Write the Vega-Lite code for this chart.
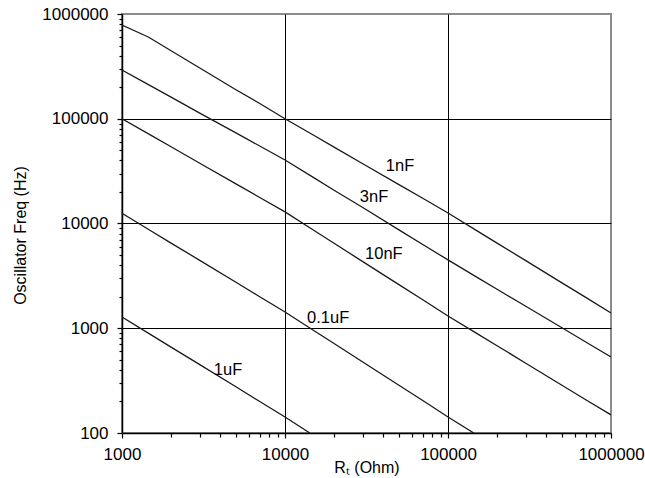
{
  "$schema": "https://vega.github.io/schema/vega-lite/v6.json",
  "width": 489,
  "height": 419,
  "autosize": "none",
  "padding": {"left": 122, "top": 14, "right": 34, "bottom": 45},
  "background": "white",
  "config": {
    "view": {"stroke": "#8c8c8c", "strokeWidth": 2},
    "font": "Liberation Sans"
  },
  "datasets": {
    "curves": [
      {"C": "1nF", "R": 1000, "F": 785000}, {"C": "1nF", "R": 1450, "F": 603000}, {"C": "1nF", "R": 2000, "F": 446000}, {"C": "1nF", "R": 3000, "F": 305000}, {"C": "1nF", "R": 5000, "F": 189000}, {"C": "1nF", "R": 7000, "F": 140000}, {"C": "1nF", "R": 10000, "F": 100000}, {"C": "1nF", "R": 15000, "F": 69500}, {"C": "1nF", "R": 20000, "F": 53600}, {"C": "1nF", "R": 30000, "F": 37200}, {"C": "1nF", "R": 50000, "F": 23500}, {"C": "1nF", "R": 70000, "F": 17400}, {"C": "1nF", "R": 100000, "F": 12600}, {"C": "1nF", "R": 150000, "F": 8550}, {"C": "1nF", "R": 200000, "F": 6500}, {"C": "1nF", "R": 300000, "F": 4420}, {"C": "1nF", "R": 500000, "F": 2710}, {"C": "1nF", "R": 700000, "F": 1970}, {"C": "1nF", "R": 1000000, "F": 1400},
      {"C": "3nF", "R": 1000, "F": 292000}, {"C": "3nF", "R": 1500, "F": 206000}, {"C": "3nF", "R": 2000, "F": 161000}, {"C": "3nF", "R": 3000, "F": 113000}, {"C": "3nF", "R": 5000, "F": 73200}, {"C": "3nF", "R": 7000, "F": 54900}, {"C": "3nF", "R": 10000, "F": 40400}, {"C": "3nF", "R": 15000, "F": 27400}, {"C": "3nF", "R": 20000, "F": 20800}, {"C": "3nF", "R": 30000, "F": 14200}, {"C": "3nF", "R": 50000, "F": 8690}, {"C": "3nF", "R": 70000, "F": 6310}, {"C": "3nF", "R": 100000, "F": 4490}, {"C": "3nF", "R": 150000, "F": 3080}, {"C": "3nF", "R": 200000, "F": 2360}, {"C": "3nF", "R": 300000, "F": 1620}, {"C": "3nF", "R": 500000, "F": 1010}, {"C": "3nF", "R": 700000, "F": 740}, {"C": "3nF", "R": 1000000, "F": 532},
      {"C": "10nF", "R": 1000, "F": 100000}, {"C": "10nF", "R": 1500, "F": 69700}, {"C": "10nF", "R": 2000, "F": 54000}, {"C": "10nF", "R": 3000, "F": 37600}, {"C": "10nF", "R": 5000, "F": 23900}, {"C": "10nF", "R": 7000, "F": 17700}, {"C": "10nF", "R": 10000, "F": 12900}, {"C": "10nF", "R": 15000, "F": 8610}, {"C": "10nF", "R": 20000, "F": 6470}, {"C": "10nF", "R": 30000, "F": 4330}, {"C": "10nF", "R": 50000, "F": 2610}, {"C": "10nF", "R": 70000, "F": 1870}, {"C": "10nF", "R": 100000, "F": 1310}, {"C": "10nF", "R": 150000, "F": 893}, {"C": "10nF", "R": 200000, "F": 681}, {"C": "10nF", "R": 300000, "F": 464}, {"C": "10nF", "R": 500000, "F": 286}, {"C": "10nF", "R": 700000, "F": 208}, {"C": "10nF", "R": 1000000, "F": 149},
      {"C": "0.1uF", "R": 1000, "F": 12500}, {"C": "0.1uF", "R": 1500, "F": 8530}, {"C": "0.1uF", "R": 2000, "F": 6500}, {"C": "0.1uF", "R": 3000, "F": 4450}, {"C": "0.1uF", "R": 5000, "F": 2750}, {"C": "0.1uF", "R": 7000, "F": 2000}, {"C": "0.1uF", "R": 10000, "F": 1430}, {"C": "0.1uF", "R": 15000, "F": 953}, {"C": "0.1uF", "R": 20000, "F": 715}, {"C": "0.1uF", "R": 30000, "F": 476}, {"C": "0.1uF", "R": 50000, "F": 286}, {"C": "0.1uF", "R": 70000, "F": 204}, {"C": "0.1uF", "R": 100000, "F": 142}, {"C": "0.1uF", "R": 144000, "F": 100},
      {"C": "1uF", "R": 1000, "F": 1280}, {"C": "1uF", "R": 1500, "F": 869}, {"C": "1uF", "R": 2000, "F": 661}, {"C": "1uF", "R": 3000, "F": 449}, {"C": "1uF", "R": 5000, "F": 276}, {"C": "1uF", "R": 7000, "F": 200}, {"C": "1uF", "R": 10000, "F": 142}, {"C": "1uF", "R": 14200, "F": 100}
    ],
    "labels": [
      {"text": "1nF", "R": 50800, "F": 35400},
      {"text": "3nF", "R": 35200, "F": 17900},
      {"text": "10nF", "R": 40400, "F": 5120},
      {"text": "0.1uF", "R": 18400, "F": 1250},
      {"text": "1uF", "R": 4470, "F": 399}
    ]
  },
  "layer": [
    {
      "data": {"name": "curves"},
      "mark": {"type": "line", "color": "#1a1a1a", "strokeWidth": 1.3, "clip": true},
      "encoding": {
        "x": {
          "field": "R", "type": "quantitative",
          "scale": {"type": "log", "domain": [1000, 1000000], "nice": false},
          "axis": {
            "title": "Rₜ (Ohm)",
            "titleFont": "Liberation Sans", "titleFontSize": 16, "titleFontWeight": "normal", "titleColor": "#000",
            "titleBaseline": "middle", "titleY": 34,
            "values": [1000, 2000, 3000, 4000, 5000, 6000, 7000, 8000, 9000, 10000, 20000, 30000, 40000, 50000, 60000, 70000, 80000, 90000, 100000, 200000, 300000, 400000, 500000, 600000, 700000, 800000, 900000, 1000000],
            "format": "d",
            "labelExpr": "(datum.value == 1000 || datum.value == 10000 || datum.value == 100000 || datum.value == 1000000) ? datum.label : ''",
            "labelOverlap": false, "labelFlush": false,
            "labelFontSize": 17, "labelColor": "#000", "labelPadding": 8,
            "domainColor": "#000", "domainWidth": 1.5,
            "tickColor": "#000", "tickWidth": 1.2,
            "tickSize": {"condition": {"test": "datum.value == 1000 || datum.value == 10000 || datum.value == 100000 || datum.value == 1000000", "value": 5}, "value": 4},
            "grid": true, "gridColor": "#000", "gridWidth": 1,
            "gridOpacity": {"condition": {"test": "datum.value == 10000 || datum.value == 100000", "value": 1}, "value": 0}
          }
        },
        "y": {
          "field": "F", "type": "quantitative",
          "scale": {"type": "log", "domain": [100, 1000000], "nice": false},
          "axis": {
            "title": "Oscillator  Freq (Hz)",
            "titleFont": "Liberation Sans", "titleFontSize": 16, "titleFontWeight": "normal", "titleColor": "#000",
            "titleX": -102, "titleY": 221, "titleBaseline": "middle", "titleAlign": "center", "titleAngle": 270,
            "values": [100, 200, 300, 400, 500, 600, 700, 800, 900, 1000, 2000, 3000, 4000, 5000, 6000, 7000, 8000, 9000, 10000, 20000, 30000, 40000, 50000, 60000, 70000, 80000, 90000, 100000, 200000, 300000, 400000, 500000, 600000, 700000, 800000, 900000, 1000000],
            "format": "d",
            "labelExpr": "(datum.value == 100 || datum.value == 1000 || datum.value == 10000 || datum.value == 100000 || datum.value == 1000000) ? datum.label : ''",
            "labelOverlap": false, "labelFlush": false,
            "labelFontSize": 17, "labelColor": "#000", "labelPadding": 9,
            "domainColor": "#000", "domainWidth": 1.5,
            "tickColor": "#000", "tickWidth": 1.2,
            "tickSize": {"condition": {"test": "datum.value == 100 || datum.value == 1000 || datum.value == 10000 || datum.value == 100000 || datum.value == 1000000", "value": 5}, "value": 3},
            "grid": true, "gridColor": "#000", "gridWidth": 1,
            "gridOpacity": {"condition": {"test": "datum.value == 1000 || datum.value == 10000 || datum.value == 100000", "value": 1}, "value": 0}
          }
        },
        "detail": {"field": "C", "type": "nominal"}
      }
    },
    {
      "data": {"name": "labels"},
      "mark": {"type": "text", "fontSize": 16.5, "font": "Liberation Sans", "color": "#000", "align": "center", "baseline": "middle"},
      "encoding": {
        "x": {"field": "R", "type": "quantitative"},
        "y": {"field": "F", "type": "quantitative"},
        "text": {"field": "text", "type": "nominal"}
      }
    }
  ]
}
